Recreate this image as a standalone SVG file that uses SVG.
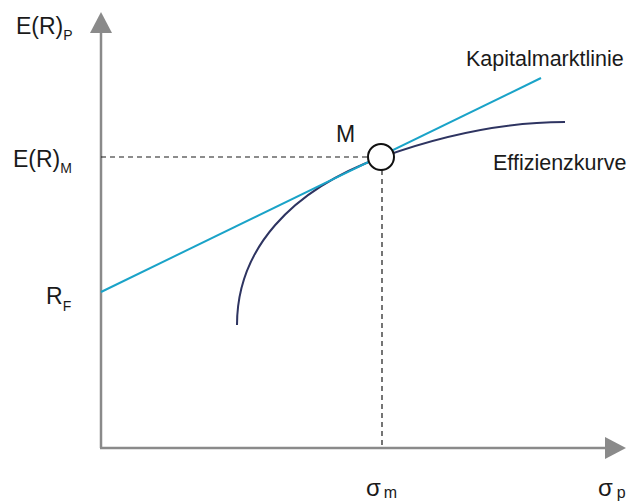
<svg xmlns="http://www.w3.org/2000/svg" width="641" height="504" viewBox="0 0 641 504">
<style>
text{font-family:"Liberation Sans",Arial,sans-serif;fill:#1a1a1a;font-size:23px}
.sub{font-size:14px}
.axis{stroke:#8a8a8a;stroke-width:2.5;fill:none}
.dash{stroke:#1a1a1a;stroke-width:1.2;stroke-dasharray:5,4;fill:none}
</style>
<rect width="641" height="504" fill="#fff"/>
<g id="axes">
<line class="axis" x1="101" y1="448" x2="101" y2="30"/>
<polygon points="101,12 90,33 112,33" fill="#8a8a8a"/>
<line class="axis" x1="100" y1="448" x2="608" y2="448"/>
<polygon points="626,448 605,437 605,459" fill="#8a8a8a"/>
</g>
<g id="connectors">
<line class="dash" x1="101" y1="157" x2="368" y2="157"/>
<line class="dash" x1="382" y1="170" x2="382" y2="447"/>
<path d="M237,325 C237,250 290,190 382,157 C440,136 500,122 565,122" stroke="#2e3461" stroke-width="2" fill="none"/>
<line x1="101" y1="292" x2="541" y2="78" stroke="#1aa3c8" stroke-width="2"/>
</g>
<g id="M">
<circle cx="381" cy="157" r="13" fill="#fff" stroke="#111" stroke-width="2"/>
<text x="336" y="142">M</text>
</g>
<g id="labels">
<text x="16" y="34">E(R)<tspan class="sub" dy="6">P</tspan></text>
<text x="13" y="167">E(R)<tspan class="sub" dy="6">M</tspan></text>
<text x="46" y="304">R<tspan class="sub" dy="7">F</tspan></text>
<text x="466" y="66" style="font-size:21.5px">Kapitalmarktlinie</text>
<text x="493" y="170" style="font-size:21.5px">Effizienzkurve</text>
<text x="366" y="496" style="font-size:24px">σ<tspan class="sub" dx="3" dy="2" style="font-size:16px">m</tspan></text>
<text x="598" y="496" style="font-size:24px">σ<tspan class="sub" dx="4" dy="2" style="font-size:16px">p</tspan></text>
</g>
</svg>
